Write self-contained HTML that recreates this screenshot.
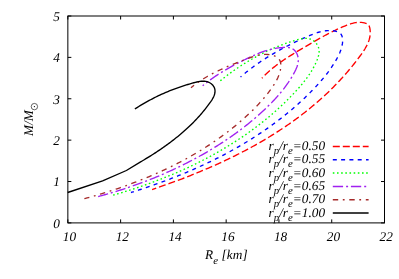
<!DOCTYPE html>
<html><head><meta charset="utf-8"><style>
html,body{margin:0;padding:0;background:#fff;}
svg{display:block;will-change:transform}
.t{text-rendering:geometricPrecision;font-family:"Liberation Serif",serif;font-style:italic;font-size:13.3px;fill:#000}
.s{font-size:10.8px}
</style></head><body>
<svg width="399" height="279" viewBox="0 0 399 279">
<rect width="399" height="279" fill="#fff"/>
<path d="M67.85 222.90V219.40M67.85 16.00V19.50M120.62 222.90V219.40M120.62 16.00V19.50M173.40 222.90V219.40M173.40 16.00V19.50M226.17 222.90V219.40M226.17 16.00V19.50M278.95 222.90V219.40M278.95 16.00V19.50M331.73 222.90V219.40M331.73 16.00V19.50M384.50 222.90V219.40M384.50 16.00V19.50M67.85 222.90H71.35M384.50 222.90H381.00M67.85 181.52H71.35M384.50 181.52H381.00M67.85 140.14H71.35M384.50 140.14H381.00M67.85 98.76H71.35M384.50 98.76H381.00M67.85 57.38H71.35M384.50 57.38H381.00M67.85 16.00H71.35M384.50 16.00H381.00" stroke="#000" stroke-width="1" fill="none"/>
<rect x="67.85" y="16.00" width="316.65" height="206.90" fill="none" stroke="#000" stroke-width="1"/>
<path d="M261.89 78.18L262.91 77.10L263.95 76.03L265.01 74.98L266.08 73.94L267.17 72.92L268.27 71.92L269.38 70.93L270.51 69.95L271.66 68.99L272.81 68.04L273.98 67.10L275.16 66.18L276.35 65.27L277.55 64.37L278.76 63.48L279.98 62.60L281.21 61.73L282.44 60.87L283.69 60.02L284.94 59.18L286.20 58.35L287.46 57.52L288.73 56.71L290.01 55.90L291.28 55.09L292.57 54.30L293.85 53.51L295.14 52.72L296.43 51.94L297.72 51.16L299.02 50.39L300.31 49.62L301.60 48.86L302.90 48.09L304.19 47.33L305.48 46.57L306.77 45.82L308.05 45.06L309.34 44.31L310.63 43.56L311.91 42.81L313.20 42.06L314.48 41.32L315.77 40.58L317.06 39.85L318.35 39.12L319.64 38.39L320.94 37.67L322.24 36.95L323.55 36.24L324.86 35.53L326.17 34.83L327.49 34.13L328.81 33.44L330.15 32.76L331.48 32.08L332.83 31.41L334.18 30.75L335.54 30.10L336.91 29.45L338.29 28.81L339.68 28.18L341.07 27.56L342.48 26.95L343.90 26.35L345.33 25.76L346.77 25.19L348.21 24.65L349.67 24.15L351.12 23.70L352.59 23.29L354.06 22.95L355.53 22.68L357.00 22.48L358.48 22.37L359.95 22.35L361.42 22.43L362.90 22.61L364.36 22.91L365.82 23.34L367.18 23.94L368.33 24.80L369.15 25.98L369.66 27.41L369.97 28.95L370.16 30.47L370.25 31.98L370.24 33.46L370.13 34.92L369.94 36.36L369.67 37.77L369.32 39.17L368.90 40.55L368.41 41.92L367.86 43.26L367.25 44.59L366.59 45.91L365.88 47.21L365.13 48.50L364.34 49.78L363.52 51.05L362.68 52.30L361.81 53.55L360.92 54.79L360.03 56.02L359.12 57.24L358.21 58.46L357.30 59.67L356.37 60.88L355.45 62.08L354.51 63.27L353.57 64.46L352.62 65.64L351.67 66.81L350.71 67.98L349.75 69.14L348.78 70.30L347.80 71.45L346.82 72.59L345.83 73.73L344.84 74.86L343.84 75.98L342.83 77.10L341.82 78.22L340.81 79.32L339.79 80.43L338.76 81.52L337.73 82.61L336.69 83.69L335.65 84.77L334.60 85.84L333.55 86.91L332.49 87.97L331.43 89.02L330.36 90.07L329.29 91.12L328.21 92.15L327.12 93.18L326.03 94.21L324.94 95.23L323.84 96.25L322.74 97.25L321.63 98.26L320.52 99.26L319.40 100.25L318.28 101.24L317.15 102.22L316.02 103.19L314.88 104.16L313.74 105.13L312.60 106.09L311.45 107.04L310.29 107.99L309.14 108.94L307.97 109.88L306.81 110.81L305.63 111.74L304.46 112.66L303.28 113.58L302.10 114.49L300.91 115.40L299.71 116.30L298.52 117.20L297.32 118.09L296.11 118.98L294.91 119.86L293.70 120.73L292.48 121.61L291.26 122.47L290.04 123.33L288.81 124.19L287.58 125.04L286.35 125.89L285.11 126.73L283.87 127.57L282.62 128.40L281.37 129.23L280.12 130.05L278.87 130.87L277.61 131.69L276.35 132.50L275.08 133.30L273.81 134.10L272.54 134.89L271.27 135.68L269.99 136.47L268.71 137.25L267.42 138.03L266.14 138.80L264.85 139.57L263.55 140.33L262.26 141.09L260.96 141.84L259.66 142.59L258.35 143.34L257.05 144.08L255.74 144.82L254.42 145.55L253.11 146.28L251.79 147.00L250.47 147.72L249.15 148.44L247.82 149.15L246.50 149.85L245.17 150.56L243.84 151.26L242.50 151.95L241.16 152.64L239.83 153.33L238.48 154.01L237.14 154.69L235.80 155.36L234.45 156.03L233.10 156.70L231.75 157.36L230.39 158.02L229.04 158.67L227.68 159.33L226.32 159.97L224.96 160.62L223.60 161.25L222.24 161.89L220.87 162.52L219.50 163.15L218.13 163.77L216.76 164.40L215.39 165.01L214.02 165.63L212.64 166.24L211.26 166.84L209.89 167.44L208.51 168.04L207.13 168.64L205.74 169.23L204.36 169.82L202.98 170.40L201.59 170.99L200.21 171.56L198.82 172.14L197.43 172.71L196.04 173.28L194.65 173.84L193.26 174.41L191.87 174.96L190.47 175.52L189.08 176.07L187.69 176.62L186.29 177.16L184.89 177.71L183.50 178.25L182.10 178.78L180.70 179.31L179.31 179.84L177.91 180.37L176.51 180.90L175.11 181.42L173.71 181.93L172.31 182.45L170.91 182.96L169.51 183.47L168.11 183.98L166.71 184.48L165.31 184.98L163.91 185.48L162.50 185.97L161.10 186.46L159.70 186.95L158.30 187.44L156.90 187.92L155.50 188.40L154.10 188.88L152.70 189.36L152.10 189.56" fill="none" stroke="#ff0000" stroke-width="1.35" stroke-linejoin="round" stroke-dasharray="7 3" stroke-dashoffset="6"/>
<path d="M240.55 76.95L241.72 75.95L242.89 74.96L244.07 73.98L245.25 73.01L246.43 72.05L247.62 71.11L248.81 70.17L250.01 69.25L251.21 68.34L252.41 67.44L253.62 66.55L254.83 65.67L256.04 64.80L257.26 63.94L258.48 63.09L259.71 62.24L260.94 61.41L262.18 60.59L263.42 59.78L264.66 58.97L265.91 58.17L267.16 57.39L268.42 56.61L269.68 55.83L270.95 55.07L272.22 54.31L273.50 53.56L274.78 52.82L276.06 52.08L277.35 51.35L278.65 50.63L279.95 49.91L281.26 49.20L282.57 48.50L283.88 47.80L285.21 47.10L286.53 46.42L287.86 45.73L289.20 45.05L290.55 44.38L291.90 43.71L293.25 43.04L294.61 42.38L295.98 41.72L297.35 41.07L298.73 40.42L300.11 39.77L301.50 39.13L302.90 38.48L304.30 37.84L305.71 37.21L307.12 36.58L308.54 35.97L309.96 35.36L311.39 34.78L312.83 34.22L314.27 33.69L315.71 33.18L317.16 32.71L318.62 32.27L320.07 31.88L321.53 31.53L323.00 31.23L324.47 30.98L325.94 30.78L327.41 30.65L328.89 30.57L330.36 30.57L331.85 30.63L333.33 30.76L334.80 30.98L336.22 31.30L337.56 31.74L338.78 32.30L339.86 33.02L340.76 33.90L341.47 34.94L342.00 36.12L342.36 37.42L342.58 38.82L342.65 40.30L342.60 41.83L342.45 43.41L342.19 45.00L341.85 46.58L341.44 48.13L340.97 49.64L340.45 51.11L339.88 52.55L339.27 53.95L338.62 55.32L337.94 56.67L337.23 58.00L336.50 59.32L335.75 60.62L334.99 61.91L334.21 63.19L333.41 64.46L332.60 65.72L331.77 66.97L330.93 68.20L330.07 69.43L329.19 70.65L328.31 71.85L327.41 73.05L326.50 74.24L325.57 75.41L324.64 76.58L323.69 77.74L322.73 78.90L321.76 80.04L320.78 81.18L319.79 82.30L318.80 83.42L317.79 84.54L316.78 85.64L315.75 86.74L314.73 87.83L313.69 88.92L312.65 90.00L311.60 91.07L310.55 92.14L309.49 93.20L308.42 94.25L307.35 95.30L306.28 96.35L305.20 97.39L304.12 98.42L303.03 99.45L301.93 100.47L300.84 101.49L299.73 102.50L298.62 103.50L297.51 104.50L296.39 105.50L295.27 106.48L294.14 107.47L293.01 108.45L291.87 109.42L290.73 110.38L289.59 111.35L288.44 112.30L287.28 113.25L286.12 114.20L284.96 115.14L283.79 116.07L282.62 117.00L281.44 117.93L280.26 118.85L279.08 119.76L277.89 120.67L276.70 121.57L275.50 122.47L274.30 123.36L273.09 124.25L271.89 125.13L270.67 126.01L269.46 126.88L268.24 127.75L267.01 128.61L265.78 129.47L264.55 130.32L263.32 131.17L262.08 132.01L260.84 132.84L259.59 133.68L258.34 134.50L257.09 135.33L255.83 136.14L254.57 136.95L253.31 137.76L252.04 138.56L250.77 139.36L249.50 140.16L248.22 140.94L246.94 141.73L245.66 142.51L244.37 143.28L243.08 144.05L241.79 144.81L240.49 145.57L239.20 146.33L237.89 147.08L236.59 147.82L235.28 148.56L233.97 149.30L232.66 150.03L231.35 150.76L230.03 151.48L228.71 152.20L227.39 152.91L226.06 153.62L224.73 154.33L223.40 155.03L222.07 155.72L220.73 156.41L219.39 157.10L218.05 157.78L216.71 158.46L215.37 159.13L214.02 159.80L212.67 160.47L211.32 161.13L209.96 161.78L208.61 162.44L207.25 163.08L205.89 163.73L204.53 164.37L203.16 165.00L201.80 165.63L200.43 166.26L199.06 166.88L197.69 167.50L196.32 168.11L194.94 168.72L193.57 169.33L192.19 169.93L190.81 170.53L189.43 171.12L188.04 171.71L186.66 172.30L185.27 172.88L183.89 173.46L182.50 174.03L181.11 174.60L179.72 175.17L178.32 175.73L176.93 176.29L175.54 176.84L174.14 177.39L172.74 177.94L171.34 178.48L169.94 179.02L168.54 179.56L167.14 180.09L165.74 180.62L164.34 181.14L162.93 181.66L161.53 182.18L160.12 182.69L158.72 183.20L157.31 183.71L155.90 184.21L154.49 184.71L153.09 185.20L151.68 185.69L150.27 186.18L148.86 186.67L147.44 187.15L146.03 187.62L144.62 188.10L143.21 188.57L141.80 189.04L140.39 189.50L138.97 189.96L137.56 190.42L136.15 190.87L134.73 191.32L133.32 191.77L131.91 192.21L130.95 192.51" fill="none" stroke="#0000ff" stroke-width="1.35" stroke-linejoin="round" stroke-dasharray="4 4.3" stroke-dashoffset="2.8"/>
<path d="M220.33 80.80L221.47 79.86L222.62 78.92L223.77 78.00L224.94 77.08L226.12 76.16L227.31 75.26L228.50 74.36L229.71 73.46L230.92 72.58L232.15 71.70L233.38 70.83L234.61 69.97L235.86 69.12L237.11 68.27L238.37 67.43L239.63 66.60L240.90 65.78L242.17 64.96L243.45 64.16L244.74 63.36L246.03 62.57L247.32 61.79L248.62 61.02L249.92 60.26L251.22 59.51L252.52 58.77L253.83 58.03L255.14 57.31L256.45 56.59L257.76 55.88L259.08 55.19L260.39 54.50L261.71 53.82L263.03 53.16L264.35 52.50L265.67 51.85L267.00 51.21L268.34 50.58L269.67 49.96L271.02 49.35L272.37 48.75L273.73 48.16L275.09 47.57L276.46 47.00L277.84 46.43L279.23 45.88L280.63 45.33L282.04 44.79L283.46 44.26L284.88 43.74L286.32 43.23L287.78 42.72L289.24 42.23L290.72 41.74L292.21 41.26L293.71 40.79L295.23 40.33L296.76 39.89L298.30 39.47L299.84 39.10L301.37 38.79L302.88 38.55L304.38 38.40L305.85 38.35L307.29 38.43L308.69 38.63L310.05 38.98L311.36 39.49L312.60 40.15L313.77 40.94L314.86 41.84L315.84 42.86L316.72 43.97L317.48 45.16L318.11 46.43L318.60 47.75L318.93 49.11L319.09 50.51L319.11 51.94L318.98 53.38L318.72 54.83L318.36 56.29L317.91 57.76L317.39 59.22L316.81 60.66L316.20 62.09L315.55 63.51L314.88 64.90L314.19 66.27L313.47 67.62L312.73 68.96L311.96 70.28L311.18 71.58L310.37 72.86L309.55 74.13L308.70 75.38L307.84 76.62L306.96 77.85L306.06 79.06L305.15 80.26L304.23 81.45L303.29 82.62L302.34 83.79L301.37 84.94L300.40 86.09L299.41 87.22L298.42 88.35L297.42 89.47L296.40 90.58L295.39 91.68L294.36 92.78L293.34 93.87L292.30 94.96L291.26 96.04L290.22 97.12L289.17 98.19L288.11 99.25L287.05 100.31L285.99 101.36L284.92 102.40L283.84 103.44L282.76 104.48L281.67 105.50L280.58 106.53L279.49 107.54L278.38 108.55L277.28 109.56L276.17 110.56L275.05 111.55L273.93 112.54L272.80 113.52L271.67 114.50L270.54 115.47L269.40 116.44L268.26 117.40L267.11 118.35L265.95 119.30L264.80 120.24L263.63 121.18L262.47 122.11L261.30 123.04L260.12 123.96L258.94 124.88L257.76 125.79L256.57 126.69L255.38 127.59L254.18 128.49L252.98 129.38L251.77 130.26L250.56 131.14L249.35 132.01L248.13 132.88L246.91 133.74L245.69 134.60L244.46 135.45L243.23 136.29L241.99 137.13L240.75 137.97L239.51 138.80L238.26 139.63L237.01 140.45L235.75 141.26L234.49 142.07L233.23 142.88L231.97 143.67L230.70 144.47L229.42 145.26L228.15 146.04L226.87 146.82L225.59 147.60L224.30 148.36L223.01 149.13L221.72 149.89L220.42 150.64L219.13 151.39L217.82 152.13L216.52 152.87L215.21 153.61L213.90 154.34L212.59 155.06L211.27 155.78L209.95 156.49L208.63 157.20L207.30 157.91L205.98 158.61L204.65 159.30L203.31 159.99L201.98 160.68L200.64 161.36L199.30 162.04L197.95 162.71L196.61 163.38L195.26 164.04L193.91 164.69L192.55 165.35L191.20 165.99L189.84 166.64L188.48 167.28L187.12 167.91L185.75 168.54L184.38 169.17L183.01 169.79L181.64 170.40L180.27 171.01L178.89 171.62L177.52 172.22L176.14 172.82L174.76 173.41L173.37 174.00L171.99 174.59L170.60 175.17L169.21 175.74L167.82 176.31L166.43 176.88L165.04 177.44L163.64 178.00L162.25 178.55L160.85 179.10L159.45 179.65L158.05 180.19L156.64 180.72L155.24 181.26L153.83 181.78L152.43 182.31L151.02 182.83L149.61 183.34L148.20 183.85L146.79 184.36L145.38 184.86L143.96 185.36L142.55 185.86L141.13 186.35L139.71 186.83L138.30 187.32L136.88 187.79L135.46 188.27L134.04 188.74L132.62 189.20L131.19 189.67L129.77 190.13L128.35 190.58L126.92 191.03L125.50 191.48L124.07 191.92L122.65 192.36L121.22 192.79L119.80 193.22L118.37 193.65L116.94 194.07L115.51 194.49L114.08 194.91L112.66 195.32L111.67 195.60" fill="none" stroke="#00ff00" stroke-width="1.35" stroke-linejoin="round" stroke-dasharray="1.6 2.57"/>
<path d="M202.68 85.78L203.84 84.82L205.00 83.87L206.17 82.93L207.35 82.01L208.54 81.10L209.74 80.21L210.95 79.33L212.17 78.45L213.40 77.60L214.63 76.75L215.88 75.91L217.13 75.09L218.39 74.27L219.65 73.47L220.92 72.68L222.20 71.89L223.48 71.12L224.77 70.35L226.07 69.59L227.37 68.85L228.67 68.10L229.98 67.37L231.30 66.65L232.61 65.93L233.94 65.22L235.26 64.52L236.59 63.82L237.92 63.13L239.25 62.44L240.59 61.76L241.93 61.09L243.27 60.42L244.61 59.75L245.95 59.09L247.29 58.44L248.64 57.79L249.99 57.15L251.34 56.51L252.69 55.89L254.05 55.28L255.42 54.68L256.79 54.10L258.16 53.53L259.55 52.98L260.93 52.45L262.33 51.93L263.74 51.44L265.15 50.97L266.58 50.52L268.01 50.09L269.45 49.69L270.91 49.32L272.38 48.98L273.86 48.66L275.35 48.38L276.86 48.12L278.38 47.91L279.91 47.72L281.46 47.57L283.03 47.46L284.60 47.39L286.17 47.39L287.70 47.49L289.19 47.69L290.61 48.03L291.93 48.53L293.15 49.21L294.25 50.07L295.22 51.08L296.07 52.23L296.79 53.48L297.37 54.83L297.81 56.24L298.11 57.70L298.27 59.17L298.29 60.64L298.16 62.10L297.91 63.56L297.55 65.00L297.10 66.43L296.56 67.85L295.95 69.26L295.30 70.65L294.60 72.03L293.87 73.39L293.13 74.74L292.37 76.07L291.60 77.38L290.80 78.68L289.99 79.97L289.17 81.24L288.33 82.50L287.47 83.74L286.60 84.97L285.72 86.19L284.82 87.40L283.91 88.59L282.98 89.77L282.05 90.94L281.10 92.10L280.14 93.25L279.17 94.39L278.19 95.52L277.20 96.64L276.20 97.75L275.19 98.85L274.17 99.95L273.14 101.03L272.10 102.11L271.06 103.18L270.01 104.24L268.95 105.29L267.88 106.34L266.81 107.39L265.74 108.42L264.66 109.46L263.57 110.48L262.47 111.50L261.37 112.51L260.27 113.52L259.15 114.52L258.04 115.51L256.91 116.50L255.79 117.48L254.65 118.46L253.51 119.43L252.37 120.39L251.22 121.35L250.06 122.30L248.90 123.25L247.73 124.19L246.56 125.12L245.39 126.05L244.21 126.97L243.02 127.89L241.83 128.80L240.64 129.71L239.44 130.61L238.23 131.50L237.03 132.39L235.81 133.27L234.60 134.15L233.37 135.02L232.15 135.89L230.92 136.75L229.69 137.60L228.45 138.45L227.21 139.29L225.96 140.13L224.71 140.96L223.46 141.79L222.20 142.61L220.94 143.43L219.67 144.24L218.40 145.05L217.13 145.85L215.86 146.64L214.58 147.43L213.30 148.21L212.01 148.99L210.73 149.77L209.44 150.54L208.14 151.30L206.85 152.06L205.55 152.81L204.24 153.56L202.94 154.30L201.63 155.04L200.32 155.77L199.01 156.50L197.69 157.22L196.37 157.94L195.05 158.65L193.73 159.36L192.41 160.06L191.08 160.76L189.75 161.46L188.42 162.14L187.08 162.83L185.75 163.50L184.41 164.18L183.07 164.85L181.73 165.51L180.38 166.17L179.04 166.82L177.69 167.47L176.34 168.12L174.98 168.76L173.63 169.39L172.27 170.02L170.91 170.64L169.55 171.26L168.18 171.88L166.82 172.49L165.45 173.10L164.08 173.70L162.71 174.29L161.33 174.88L159.96 175.47L158.58 176.05L157.20 176.63L155.82 177.20L154.43 177.77L153.04 178.33L151.66 178.89L150.27 179.45L148.87 179.99L147.48 180.54L146.08 181.08L144.69 181.61L143.28 182.14L141.88 182.67L140.48 183.19L139.07 183.71L137.67 184.22L136.26 184.73L134.84 185.23L133.43 185.73L132.02 186.22L130.60 186.71L129.18 187.19L127.76 187.67L126.34 188.15L124.91 188.62L123.49 189.09L122.06 189.55L120.63 190.00L119.20 190.46L117.76 190.91L116.33 191.35L114.89 191.79L113.45 192.22L112.01 192.65L110.57 193.08L109.13 193.50L107.68 193.92L106.23 194.33L104.78 194.74L103.33 195.14L101.88 195.54L100.43 195.94L98.97 196.33L97.51 196.71L97.21 196.79" fill="none" stroke="#a020f0" stroke-width="1.35" stroke-linejoin="round" stroke-dasharray="10.3 3 2 2.8" stroke-dashoffset="8.7"/>
<path d="M190.97 87.68L192.20 86.70L193.43 85.74L194.67 84.80L195.92 83.88L197.17 82.99L198.42 82.11L199.67 81.26L200.93 80.42L202.20 79.60L203.47 78.80L204.74 78.02L206.02 77.25L207.30 76.50L208.59 75.77L209.89 75.05L211.18 74.34L212.49 73.65L213.79 72.97L215.10 72.30L216.42 71.65L217.74 71.00L219.07 70.37L220.41 69.74L221.74 69.12L223.09 68.52L224.44 67.92L225.79 67.32L227.15 66.74L228.52 66.15L229.89 65.58L231.27 65.01L232.65 64.44L234.04 63.87L235.43 63.31L236.83 62.75L238.24 62.19L239.65 61.63L241.07 61.07L242.49 60.51L243.93 59.95L245.36 59.39L246.81 58.84L248.26 58.29L249.71 57.76L251.17 57.25L252.64 56.77L254.11 56.31L255.59 55.90L257.07 55.52L258.55 55.19L260.04 54.91L261.54 54.69L263.04 54.53L264.54 54.43L266.04 54.41L267.55 54.47L269.07 54.60L270.58 54.83L272.06 55.15L273.50 55.56L274.87 56.08L276.14 56.71L277.29 57.44L278.31 58.30L279.15 59.27L279.81 60.37L280.30 61.58L280.63 62.88L280.81 64.25L280.86 65.69L280.79 67.16L280.61 68.67L280.33 70.19L279.97 71.71L279.54 73.20L279.06 74.67L278.51 76.10L277.92 77.51L277.28 78.89L276.60 80.24L275.87 81.58L275.11 82.89L274.32 84.18L273.50 85.45L272.66 86.71L271.80 87.95L270.92 89.18L270.02 90.40L269.12 91.61L268.20 92.81L267.28 94.00L266.34 95.17L265.39 96.34L264.43 97.50L263.46 98.65L262.49 99.79L261.50 100.92L260.50 102.04L259.49 103.15L258.48 104.26L257.45 105.35L256.42 106.44L255.38 107.52L254.33 108.59L253.27 109.65L252.21 110.70L251.13 111.75L250.05 112.79L248.97 113.82L247.87 114.84L246.77 115.86L245.67 116.87L244.56 117.87L243.44 118.87L242.32 119.86L241.19 120.84L240.05 121.82L238.92 122.79L237.77 123.75L236.62 124.71L235.47 125.66L234.31 126.61L233.15 127.55L231.98 128.49L230.81 129.41L229.63 130.34L228.45 131.25L227.27 132.16L226.08 133.07L224.88 133.96L223.68 134.86L222.48 135.74L221.27 136.62L220.06 137.50L218.84 138.37L217.62 139.23L216.39 140.09L215.16 140.94L213.93 141.78L212.69 142.62L211.45 143.46L210.20 144.29L208.96 145.11L207.70 145.93L206.44 146.74L205.18 147.54L203.92 148.34L202.65 149.14L201.38 149.93L200.10 150.71L198.82 151.49L197.54 152.26L196.25 153.03L194.96 153.79L193.67 154.54L192.37 155.29L191.07 156.04L189.77 156.78L188.46 157.51L187.15 158.24L185.84 158.97L184.52 159.68L183.20 160.40L181.88 161.11L180.55 161.81L179.22 162.51L177.89 163.20L176.56 163.88L175.22 164.57L173.88 165.24L172.54 165.91L171.19 166.58L169.84 167.24L168.49 167.90L167.14 168.55L165.78 169.19L164.42 169.84L163.06 170.47L161.70 171.10L160.33 171.73L158.96 172.35L157.59 172.97L156.22 173.58L154.84 174.18L153.47 174.79L152.09 175.38L150.71 175.98L149.32 176.56L147.94 177.14L146.55 177.72L145.16 178.30L143.77 178.86L142.38 179.43L140.98 179.99L139.58 180.54L138.18 181.09L136.78 181.64L135.38 182.18L133.98 182.71L132.57 183.24L131.17 183.77L129.76 184.29L128.35 184.81L126.94 185.32L125.53 185.83L124.11 186.34L122.70 186.84L121.28 187.33L119.86 187.82L118.45 188.31L117.03 188.79L115.61 189.27L114.18 189.74L112.76 190.21L111.34 190.68L109.91 191.14L108.49 191.60L107.06 192.05L105.64 192.50L104.21 192.94L102.78 193.38L101.35 193.82L99.92 194.25L98.49 194.68L97.06 195.10L95.63 195.52L94.20 195.94L92.77 196.35L91.34 196.76L89.90 197.17L88.47 197.57L87.04 197.96L85.61 198.35L84.37 198.69" fill="none" stroke="#a52a2a" stroke-width="1.35" stroke-linejoin="round" stroke-dasharray="5.4 4.6 1.8 4.7" stroke-dashoffset="1.5"/>
<path d="M134.86 108.99L136.17 108.15L137.48 107.32L138.78 106.50L140.09 105.70L141.39 104.91L142.70 104.13L144.01 103.37L145.32 102.62L146.62 101.88L147.93 101.15L149.25 100.43L150.56 99.73L151.88 99.03L153.20 98.35L154.52 97.68L155.84 97.02L157.17 96.37L158.50 95.73L159.84 95.10L161.18 94.48L162.52 93.88L163.87 93.28L165.22 92.69L166.58 92.11L167.95 91.54L169.32 90.98L170.70 90.43L172.08 89.89L173.47 89.36L174.87 88.83L176.27 88.32L177.69 87.81L179.11 87.31L180.54 86.82L181.97 86.34L183.42 85.87L184.88 85.40L186.34 84.94L187.82 84.49L189.30 84.04L190.80 83.60L192.30 83.17L193.82 82.75L195.34 82.35L196.86 81.99L198.37 81.68L199.88 81.43L201.37 81.27L202.84 81.20L204.29 81.23L205.70 81.39L207.08 81.68L208.42 82.13L209.71 82.74L210.95 83.52L212.09 84.47L213.10 85.56L213.93 86.78L214.53 88.12L214.89 89.54L215.02 90.99L214.94 92.42L214.69 93.83L214.27 95.23L213.72 96.60L213.06 97.95L212.30 99.29L211.46 100.61L210.58 101.90L209.66 103.18L208.73 104.45L207.80 105.69L206.87 106.92L205.93 108.13L204.98 109.33L204.03 110.51L203.07 111.67L202.11 112.82L201.14 113.96L200.17 115.09L199.18 116.20L198.19 117.31L197.19 118.40L196.18 119.48L195.16 120.55L194.13 121.62L193.10 122.67L192.05 123.72L190.99 124.76L189.92 125.79L188.84 126.82L187.76 127.83L186.66 128.84L185.56 129.84L184.44 130.84L183.32 131.83L182.19 132.81L181.05 133.78L179.90 134.74L178.75 135.70L177.59 136.65L176.42 137.59L175.24 138.53L174.06 139.46L172.87 140.38L171.68 141.30L170.48 142.20L169.27 143.10L168.06 144.00L166.84 144.89L165.62 145.77L164.39 146.64L163.15 147.51L161.92 148.37L160.68 149.22L159.43 150.07L158.18 150.91L156.93 151.74L155.67 152.57L154.41 153.39L153.15 154.20L151.89 155.01L150.62 155.81L149.35 156.61L148.08 157.39L146.80 158.18L145.53 158.95L144.25 159.72L142.98 160.49L141.70 161.25L140.57 161.91L126.40 170.50L102.60 180.80L67.70 192.50" fill="none" stroke="#000000" stroke-width="1.35" stroke-linejoin="round"/>
<path d="M332.8 146.5H368.6" fill="none" stroke="#ff0000" stroke-width="1.5" stroke-dasharray="7 3"/>
<text x="325.1" y="150.1" text-anchor="end" class="t">r<tspan class="s" dy="3.9">p</tspan><tspan dy="-3.9">/r</tspan><tspan class="s" dy="3.9">e</tspan><tspan dy="-3.9">=0.50</tspan></text>
<path d="M332.8 159.8H368.6" fill="none" stroke="#0000ff" stroke-width="1.5" stroke-dasharray="4 4.3"/>
<text x="325.1" y="163.4" text-anchor="end" class="t">r<tspan class="s" dy="3.9">p</tspan><tspan dy="-3.9">/r</tspan><tspan class="s" dy="3.9">e</tspan><tspan dy="-3.9">=0.55</tspan></text>
<path d="M332.8 173.0H368.6" fill="none" stroke="#00ff00" stroke-width="1.5" stroke-dasharray="1.6 2.57"/>
<text x="325.1" y="176.6" text-anchor="end" class="t">r<tspan class="s" dy="3.9">p</tspan><tspan dy="-3.9">/r</tspan><tspan class="s" dy="3.9">e</tspan><tspan dy="-3.9">=0.60</tspan></text>
<path d="M332.8 186.4H368.6" fill="none" stroke="#a020f0" stroke-width="1.5" stroke-dasharray="10.3 3 2 2.8"/>
<text x="325.1" y="190.0" text-anchor="end" class="t">r<tspan class="s" dy="3.9">p</tspan><tspan dy="-3.9">/r</tspan><tspan class="s" dy="3.9">e</tspan><tspan dy="-3.9">=0.65</tspan></text>
<path d="M332.8 199.7H368.6" fill="none" stroke="#a52a2a" stroke-width="1.5" stroke-dasharray="5.4 4.6 1.8 4.7"/>
<text x="325.1" y="203.3" text-anchor="end" class="t">r<tspan class="s" dy="3.9">p</tspan><tspan dy="-3.9">/r</tspan><tspan class="s" dy="3.9">e</tspan><tspan dy="-3.9">=0.70</tspan></text>
<path d="M332.8 213.0H368.6" fill="none" stroke="#000000" stroke-width="1.5"/>
<text x="325.1" y="216.6" text-anchor="end" class="t">r<tspan class="s" dy="3.9">p</tspan><tspan dy="-3.9">/r</tspan><tspan class="s" dy="3.9">e</tspan><tspan dy="-3.9">=1.00</tspan></text>
<text x="69.5" y="241" text-anchor="middle" class="t">10</text>
<text x="122.3" y="241" text-anchor="middle" class="t">12</text>
<text x="175.1" y="241" text-anchor="middle" class="t">14</text>
<text x="227.9" y="241" text-anchor="middle" class="t">16</text>
<text x="280.6" y="241" text-anchor="middle" class="t">18</text>
<text x="333.4" y="241" text-anchor="middle" class="t">20</text>
<text x="386.2" y="241" text-anchor="middle" class="t">22</text>
<text x="60" y="227.7" text-anchor="end" class="t">0</text>
<text x="60" y="186.3" text-anchor="end" class="t">1</text>
<text x="60" y="144.9" text-anchor="end" class="t">2</text>
<text x="60" y="103.6" text-anchor="end" class="t">3</text>
<text x="60" y="62.2" text-anchor="end" class="t">4</text>
<text x="60" y="20.8" text-anchor="end" class="t">5</text>
<text x="205" y="259" class="t">R<tspan class="s" dy="4.8">e</tspan><tspan dy="-4.8" letter-spacing="0.15"> [km]</tspan></text>
<g transform="translate(32.5,136) rotate(-90)"><text x="0" y="0" class="t">M/M</text><circle cx="29.4" cy="1.9" r="3.2" fill="none" stroke="#000" stroke-width="0.6"/><circle cx="29.4" cy="1.9" r="0.65" fill="#000"/></g>
</svg></body></html>
